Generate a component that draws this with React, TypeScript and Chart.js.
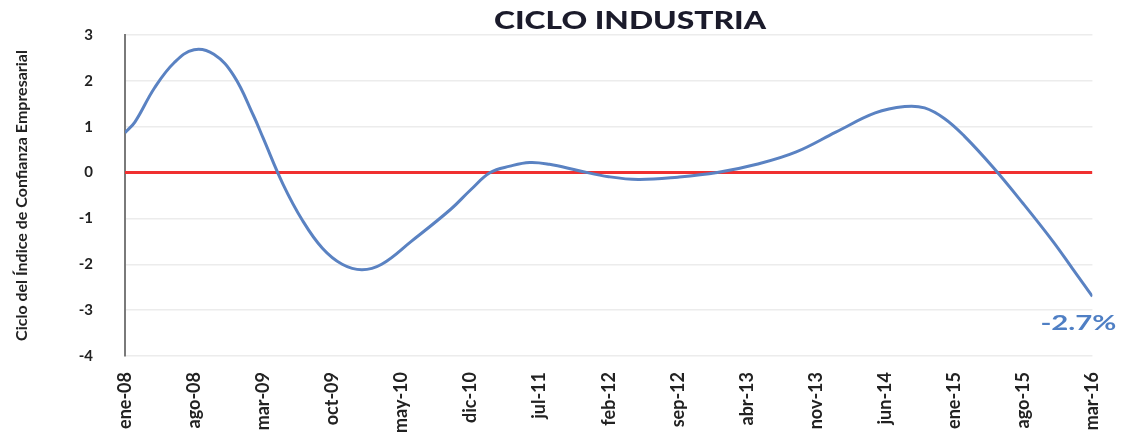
import React, { useEffect, useRef } from "react";
import { Chart, registerables } from "chart.js";

Chart.register(...registerables);

const TITLE = "CICLO INDUSTRIA";
const Y_TITLE = "Ciclo del Índice de Confianza Empresarial";
const TICK_LABELS = [
  "ene-08", "ago-08", "mar-09", "oct-09", "may-10", "dic-10", "jul-11", "feb-12",
  "sep-12", "abr-13", "nov-13", "jun-14", "ene-15", "ago-15", "mar-16",
];
// month index counted from ene-08
const MONTHS = [0, 1, 3, 5, 7, 9, 11, 13, 14, 16, 18, 20, 22, 24, 26, 29, 33, 35, 37, 39, 41, 43, 46, 49, 52, 56, 60, 64, 68, 72, 76, 79, 81, 83, 85, 88, 91, 94, 96, 98];
const CYCLE = [0.87, 1.1, 1.85, 2.4, 2.68, 2.58, 2.12, 1.25, 0.75, -0.25, -1.05, -1.65, -2.0, -2.12, -2.0, -1.5, -0.8, -0.38, 0, 0.14, 0.22, 0.18, 0.04, -0.09, -0.15, -0.1, 0, 0.18, 0.45, 0.88, 1.3, 1.44, 1.41, 1.18, 0.8, 0.1, -0.68, -1.5, -2.1, -2.7];
const ZERO_LINE = [0, 0];
const LAST_LABEL = "-2.7%";

const FONT = "Lato, 'Open Sans', sans-serif";

function drawStretched(c: any, text: string, cx: number, cy: number, width: number) {
  const w = c.measureText(text).width;
  c.save();
  c.translate(cx, cy);
  c.scale(width / w, 1);
  c.fillText(text, 0, 0);
  c.restore();
}

export default function App() {
  const ref = useRef<HTMLCanvasElement>(null);
  useEffect(() => {
    document.body.style.margin = "0";
    const ctx = ref.current!;
    const overlay = {
      id: "overlay",
      afterDatasetsDraw(chart: any) {
        const c = chart.ctx;
        const area = chart.chartArea;
        c.save();
        c.textAlign = "center";
        c.textBaseline = "middle";
        c.fillStyle = "#1b1b2b";
        c.font = `900 24px ${FONT}`;
        drawStretched(c, TITLE, area.left + 505, 21, 272);
        const meta = chart.getDatasetMeta(0);
        const last = meta.data[meta.data.length - 1];
        c.fillStyle = "#4f7fc4";
        c.font = `bold 21px ${FONT}`;
        drawStretched(c, LAST_LABEL, last.x - 14, last.y + 27, 76);
        c.restore();
      },
    };
    const chart = new Chart(ctx, {
      type: "line",
      data: {
        datasets: [
          {
            data: MONTHS.map((m, i) => ({ x: m, y: CYCLE[i] })),
            borderColor: "#5a82c2",
            borderWidth: 3,
            pointRadius: 0,
            tension: 0.4,
            order: 1,
          },
          {
            data: [0, 98].map((m, i) => ({ x: m, y: ZERO_LINE[i] })),
            borderColor: "#f03030",
            borderWidth: 3,
            pointRadius: 0,
            order: 2,
          },
        ],
      },
      options: {
        animation: false,
        responsive: false,
        layout: { padding: { top: 35, right: 26, left: 0, bottom: 0 } },
        plugins: { legend: { display: false }, tooltip: { enabled: false }, title: { display: false } },
        scales: {
          x: {
            type: "linear",
            min: 0,
            max: 98,
            afterBuildTicks(axis: any) {
              axis.ticks = TICK_LABELS.map((_, i) => ({ value: i * 7 }));
            },
            afterFit(axis: any) {
              axis.height = 79;
            },
            ticks: {
              autoSkip: false,
              maxRotation: 90,
              minRotation: 90,
              padding: 8,
              color: "#222",
              font: { family: FONT, size: 18, weight: "bold" },
              callback: (v: any) => TICK_LABELS[Math.round(Number(v) / 7)] ?? "",
            },
            grid: { display: false },
            border: { display: false },
          },
          y: {
            min: -4,
            max: 3,
            afterFit(axis: any) {
              axis.width = 125;
              axis.paddingTop = 0;
              axis.paddingBottom = 0;
            },
            ticks: {
              stepSize: 1,
              padding: 32,
              color: "#222",
              font: { family: FONT, size: 15, weight: "bold" },
            },
            grid: { color: "#ececec", lineWidth: 1.5, drawTicks: false },
            border: { display: true, color: "#7a7a7a", width: 2 },
            title: {
              display: true,
              text: Y_TITLE,
              color: "#222",
              padding: { top: 12, bottom: 0 },
              font: { family: FONT, size: 16, weight: "bold" },
            },
          },
        },
      },
      plugins: [overlay],
    } as any);
    return () => chart.destroy();
  }, []);
  return (
    <div style={{ width: 1122, height: 435 }}>
      <canvas ref={ref} width={1122} height={435} />
    </div>
  );
}
